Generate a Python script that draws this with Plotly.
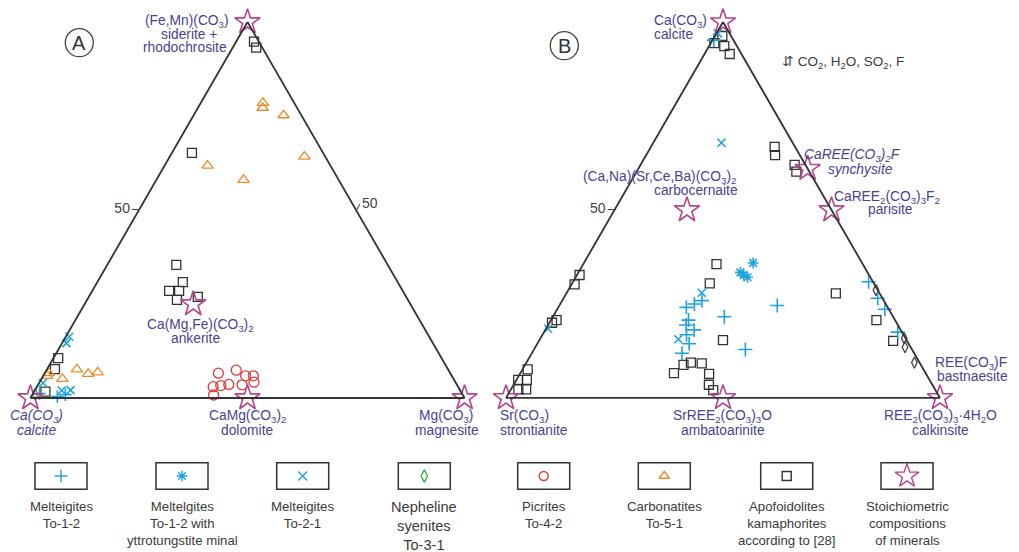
import plotly.graph_objects as go

W, H = 1019, 552
FONT = "Liberation Sans, Arial, sans-serif"
LBL = "#4b3f96"
STAR = "#b4468e"
BLUE = "#1fa3dc"
RED = "#e03a3a"
ORANGE = "#ef8a2a"
GREEN = "#35a84a"
DARK = "#333333"

# ---------------- Diagram A: (Fe,Mn) top (a), Ca bottom-left (b), Mg bottom-right (c)
sqA_a = [94.8, 93.2, 65.2, 35.4, 30.8, 28.5, 28.5, 26.1, 26.9, 10.6, 7.7, 1.7]
sqA_b = [1.1, 1.4, 30.2, 48.7, 49.5, 53.8, 51.5, 53.2, 48.0, 88.3, 90.5, 95.7]
sqA_c = [4.1, 5.4, 4.6, 15.9, 19.7, 17.7, 20.0, 20.7, 25.1, 1.1, 1.8, 2.6]

triA_a = [78.5, 77.2, 75.2, 64.2, 61.8, 58.0, 6.6, 5.9, 5.1, 7.6, 6.4, 6.8]
triA_b = [7.2, 7.9, 4.1, 4.8, 28.3, 21.9, 92.5, 93.2, 90.1, 85.5, 83.5, 81.1]
triA_c = [14.3, 14.9, 20.7, 31.0, 9.9, 20.1, 0.9, 0.9, 4.8, 6.9, 10.1, 12.1]

circA_a = [6.6, 7.4, 5.9, 5.9, 4.2, 3.6, 3.3, 3.0, 3.5, 0.8]
circA_b = [53.4, 48.9, 47.5, 45.7, 46.4, 52.5, 54.5, 56.4, 49.5, 57.4]
circA_c = [40.0, 43.7, 46.6, 48.4, 49.4, 43.9, 42.2, 40.6, 47.0, 41.8]

xA_a = [16.3, 14.6, 4.0, 2.0, 2.1]
xA_b = [82.9, 84.4, 95.1, 91.8, 89.7]
xA_c = [0.8, 1.0, 0.9, 6.2, 8.2]

plusA_a = [0.4, 0.9, 1.2]
plusA_b = [93.6, 91.5, 97.3]
plusA_c = [6.0, 7.6, 1.5]

diaA_a = [1.0]
diaA_b = [98.4]
diaA_c = [0.6]

starA_a = [100, 0, 0, 0, 25]
starA_b = [0, 100, 50, 0, 50]
starA_c = [0, 0, 50, 100, 25]

# ---------------- Diagram B: Ca top (a), Sr bottom-left (b), REE bottom-right (c)
sqB_a = [96.3, 93.6, 91.5, 94.4, 66.8, 64.6, 62.0, 60.2, 35.6, 30.5, 32.7, 30.2, 20.7, 20.0, 7.6,
         4.8, 4.8, 2.3, 2.3, 27.8, 20.7, 15.2, 15.4, 8.8, 9.4, 9.2, 6.6, 6.4, 3.5, 2.1]
sqB_b = [2.0, 2.9, 2.7, 4.8, 4.7, 5.7, 2.5, 3.0, 33.7, 37.8, 66.7, 69.1, 78.0, 79.4, 91.2,
         92.8, 94.8, 94.2, 96.0, 10.1, 4.3, 3.2, 42.3, 54.7, 52.7, 50.3, 58.0, 50.0, 51.5, 51.2]
sqB_c = [1.7, 3.5, 5.8, 0.8, 28.5, 29.7, 35.5, 36.8, 30.7, 31.7, 0.6, 0.7, 1.3, 0.6, 1.2,
         2.4, 0.4, 3.5, 1.7, 62.1, 75.0, 81.6, 42.3, 36.5, 37.9, 40.5, 35.4, 43.6, 45.0, 46.7]

diaB_a = [28.7, 15.9, 13.5, 9.4]
diaB_b = [0.4, 0.3, 1.3, 1.2]
diaB_c = [70.9, 83.8, 85.2, 89.4]

plusB_a = [24.1, 25.0, 25.9, 20.7, 19.4, 18.1, 16.8, 14.4, 11.9, 21.6, 24.6, 12.9, 30.9, 26.5, 23.6, 17.5, 95.2]
plusB_b = [46.4, 44.1, 41.9, 47.6, 48.8, 47.6, 50.0, 50.6, 53.5, 38.9, 25.2, 38.4, 1.0, 1.1, 0.9, 1.0, 4.5]
plusB_c = [29.5, 30.9, 32.2, 31.7, 31.8, 34.3, 33.2, 35.0, 34.6, 39.5, 50.2, 48.7, 68.1, 72.4, 75.5, 81.5, 0.3]

xB_a = [28.0, 15.6, 18.4, 97.0, 67.9]
xB_b = [40.9, 52.5, 81.1, 2.7, 16.4]
xB_c = [31.1, 31.9, 0.5, 0.3, 15.7]

astB_a = [35.9, 33.4, 32.1, 32.7]
astB_b = [25.1, 29.3, 28.3, 28.9]
astB_c = [39.0, 37.3, 39.6, 38.4]

starB_a = [100, 0, 0, 0, 61, 50, 50]
starB_b = [0, 100, 0, 50, 0, 0, 33.3]
starB_c = [0, 0, 100, 50, 39, 50, 16.7]

# ---------------- Legend
legend_symbols = ["cross-thin-open", "asterisk-open", "x-thin-open", "diamond-tall-open",
                  "circle-open", "triangle-up-open", "square-open", "star-open"]
legend_colors = [BLUE, BLUE, BLUE, GREEN, RED, ORANGE, DARK, STAR]
legend_texts = ["Melteigites<br>To-1-2", "Meltelgites<br>To-1-2 with<br>yttrotungstite minal",
                "Melteigites<br>To-2-1", "Nepheline<br>syenites<br>To-3-1",
                "Picrites<br>To-4-2", "Carbonatites<br>To-5-1",
                "Apofoidolites<br>kamaphorites<br>according to [28]",
                "Stoichiometric<br>compositions<br>of minerals"]

fig = go.Figure()


def add_series(sub, a, b, c, symbol, color, size, lw=1.3):
    fig.add_trace(go.Scatterternary(
        a=a, b=b, c=c, mode="markers", subplot=sub, cliponaxis=False,
        showlegend=False, hoverinfo="skip",
        marker=dict(symbol=symbol, size=size, color=color,
                    line=dict(color=color, width=lw))))


add_series("ternary", sqA_a, sqA_b, sqA_c, "square-open", DARK, 9)
add_series("ternary", triA_a, triA_b, triA_c, "triangle-up-open", ORANGE, 10)
add_series("ternary", circA_a, circA_b, circA_c, "circle-open", RED, 10)
add_series("ternary", xA_a, xA_b, xA_c, "x-thin-open", BLUE, 8, 1.6)
add_series("ternary", plusA_a, plusA_b, plusA_c, "cross-thin-open", BLUE, 9, 1.6)
add_series("ternary", diaA_a, diaA_b, diaA_c, "diamond-tall-open", GREEN, 8)
add_series("ternary", starA_a, starA_b, starA_c, "star-open", STAR, 19, 1.6)

add_series("ternary2", sqB_a, sqB_b, sqB_c, "square-open", DARK, 9)
add_series("ternary2", diaB_a, diaB_b, diaB_c, "diamond-tall-open", "#444444", 8)
add_series("ternary2", plusB_a, plusB_b, plusB_c, "cross-thin-open", BLUE, 10, 1.6)
add_series("ternary2", xB_a, xB_b, xB_c, "x-thin-open", BLUE, 8, 1.6)
add_series("ternary2", astB_a, astB_b, astB_c, "asterisk-open", BLUE, 9, 1.6)
add_series("ternary2", starB_a, starB_b, starB_c, "star-open", STAR, 19, 1.6)


def px(x):
    return x / W


def py(y):
    return 1 - y / H


# legend markers on a hidden pixel-space cartesian axis
box_x0 = [35, 156, 276.7, 398.3, 517.7, 638.3, 760.7, 881]
box_w = 52
bx = [x + box_w / 2 for x in box_x0]
for i in range(8):
    sym = legend_symbols[i]
    size = 18 if sym == "star-open" else 9
    fig.add_trace(go.Scatter(
        x=[bx[i]], y=[476], mode="markers", showlegend=False, hoverinfo="skip",
        marker=dict(symbol=sym, size=size, color=legend_colors[i],
                    line=dict(color=legend_colors[i], width=1.4))))

shapes = []
annotations = []
for i in range(8):
    shapes.append(dict(type="rect", xref="paper", yref="paper",
                       x0=px(box_x0[i]), x1=px(box_x0[i] + box_w),
                       y0=py(489.3), y1=py(462.7),
                       line=dict(color="#333", width=1.5)))
    fs = 14.6 if i == 3 else 13.2
    annotations.append(dict(text=legend_texts[i], x=px(bx[i]), y=py(497),
                            xref="paper", yref="paper", xanchor="center", yanchor="top",
                            showarrow=False, align="center",
                            font=dict(family=FONT, size=fs, color="#3a3a3a")))

# circled letters
for cx, cy, letter in [(79.3, 42.7, "A"), (564.3, 45.7, "B")]:
    shapes.append(dict(type="circle", xref="paper", yref="paper",
                       x0=px(cx - 14), x1=px(cx + 14), y0=py(cy + 14), y1=py(cy - 14),
                       line=dict(color="#444", width=1.3)))
    annotations.append(dict(text=letter, x=px(cx), y=py(cy), xref="paper", yref="paper",
                            showarrow=False, xanchor="center", yanchor="middle",
                            font=dict(family=FONT, size=20, color="#333")))

labels = [
    # (text, x, y, italic, anchor)
    ("(Fe,Mn)(CO<sub>3</sub>)", 187, 22, False, "center"),
    ("siderite +", 188.5, 35, False, "center"),
    ("rhodochrosite", 185, 47.5, False, "center"),
    ("Ca(Mg,Fe)(CO<sub>3</sub>)<sub>2</sub>", 200.8, 325, False, "center"),
    ("ankerite", 195, 338.3, False, "center"),
    ("Ca(CO<sub>3</sub>)", 36.7, 416, True, "center"),
    ("calcite", 36.7, 430, True, "center"),
    ("CaMg(CO<sub>3</sub>)<sub>2</sub>", 247.5, 416, False, "center"),
    ("dolomite", 247, 430, False, "center"),
    ("Mg(CO<sub>3</sub>)", 446.3, 416, False, "center"),
    ("magnesite", 446.7, 430, False, "center"),
    ("Ca(CO<sub>3</sub>)", 680, 21, False, "center"),
    ("calcite", 673.7, 35, False, "center"),
    ("(Ca,Na)(Sr,Ce,Ba)(CO<sub>3</sub>)<sub>2</sub>", 659, 177, False, "center"),
    ("carbocernaite", 695.8, 190.7, False, "center"),
    ("CaREE(CO<sub>3</sub>)<sub>2</sub>F", 852, 155.5, True, "center"),
    ("synchysite", 860.8, 169.3, True, "center"),
    ("CaREE<sub>2</sub>(CO<sub>3</sub>)<sub>3</sub>F<sub>2</sub>", 886.7, 197.5, False, "center"),
    ("parisite", 890.8, 209.3, False, "center"),
    ("REE(CO<sub>3</sub>)F", 970.8, 363, False, "center"),
    ("bastnaesite", 972, 376.7, False, "center"),
    ("Sr(CO<sub>3</sub>)", 498, 416, False, "left"),
    ("strontianite", 498, 430, False, "left"),
    ("SrREE<sub>2</sub>(CO<sub>3</sub>)<sub>3</sub>O", 722, 416, False, "center"),
    ("ambatoarinite", 723.3, 430, False, "center"),
    ("REE<sub>2</sub>(CO<sub>3</sub>)<sub>3</sub>·4H<sub>2</sub>O", 940.3, 416, False, "center"),
    ("calkinsite", 940.8, 430, False, "center"),
]
for text, x, y, ital, anc in labels:
    t = "<i>" + text + "</i>" if ital else text
    annotations.append(dict(text=t, x=px(x), y=py(y), xref="paper", yref="paper",
                            showarrow=False, xanchor=anc, yanchor="middle",
                            font=dict(family=FONT, size=13.8, color=LBL)))

annotations.append(dict(text="⇵ CO<sub>2</sub>, H<sub>2</sub>O, SO<sub>2</sub>, F",
                        x=px(780), y=py(62), xref="paper", yref="paper", showarrow=False,
                        xanchor="left", yanchor="middle",
                        font=dict(family=FONT, size=13.5, color="#3a3a3a")))


def tern_axis(show_tick):
    d = dict(showgrid=False, linecolor="#333", linewidth=1.8, title=dict(text=""),
             tickfont=dict(family=FONT, size=14, color="#444"), tickcolor="#333")
    if show_tick:
        d.update(tickmode="array", tickvals=[50], ticktext=["50"], ticks="outside",
                 ticklen=6, showticklabels=True)
    else:
        d.update(ticks="", showticklabels=False)
    return d


ydom = [py(398), py(22)]
fig.update_layout(
    width=W, height=H, margin=dict(l=0, r=0, t=0, b=0),
    paper_bgcolor="white", plot_bgcolor="white",
    ternary=dict(domain=dict(x=[px(30), px(465)], y=ydom), sum=100, bgcolor="white",
                 aaxis=tern_axis(True), baxis=tern_axis(False), caxis=tern_axis(True)),
    ternary2=dict(domain=dict(x=[px(506), px(940)], y=ydom), sum=100, bgcolor="white",
                  aaxis=tern_axis(True), baxis=tern_axis(False), caxis=tern_axis(False)),
    xaxis=dict(range=[0, W], visible=False, fixedrange=True),
    yaxis=dict(range=[H, 0], visible=False, fixedrange=True),
    shapes=shapes, annotations=annotations,
)

fig.write_html("out.html", config={"displayModeBar": False},
               post_script="document.body.style.margin='0';document.body.style.padding='0';")
